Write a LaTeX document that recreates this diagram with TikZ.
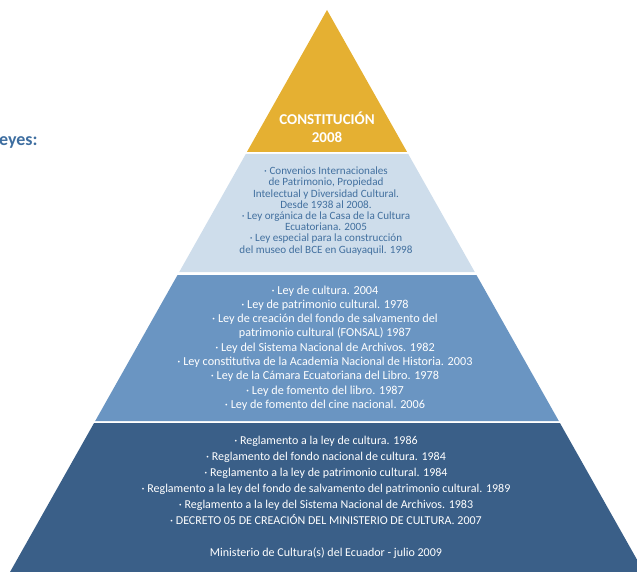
\documentclass[tikz,border=0pt]{standalone}
\usepackage{fontspec}
\setmainfont{Carlito}
\definecolor{gold}{HTML}{E5B032}
\definecolor{lightb}{HTML}{CEDDEB}
\definecolor{medb}{HTML}{6A95C2}
\definecolor{darkb}{HTML}{3A5F88}
\definecolor{txtb}{HTML}{42709F}
\definecolor{headb}{HTML}{3E6EA0}
\newcommand\pyrband[3]{%
  \fill[#3] ({327-0.564*(#1-10)},#1) -- ({327+0.564*(#1-10)},#1) --
    ({327+0.564*(#2-10)},#2) -- ({327-0.564*(#2-10)},#2) -- cycle;}
\tikzset{
  bandtext/.style={align=center, inner sep=0pt, anchor=center},
}
\begin{document}
\begin{tikzpicture}[x=1pt,y=-1pt]
\useasboundingbox (0,0) rectangle (637,572);
\clip (0,0) rectangle (637,572);
\pyrband{10}{152}{gold}
\pyrband{154}{272}{lightb}
\pyrband{275}{421}{medb}
\pyrband{423}{572}{darkb}

\node[anchor=west, inner sep=0pt, text=headb, font=\fontsize{18}{20}\selectfont\bfseries] (head) at (-1,142) {eyes:};

\node[bandtext, text=white, font=\fontsize{15}{18}\selectfont\bfseries] (t1) at (327,127)
  {CONSTITUCIÓN\\2008};

\node[bandtext, text=txtb, font=\fontsize{11.1}{11.2}\selectfont] (t2) at (326,211)
  {· Convenios Internacionales\\
   de Patrimonio, Propiedad\\
   Intelectual y Diversidad Cultural.\\
   Desde 1938 al 2008.\\
   · Ley orgánica de la Casa de la Cultura\\
   Ecuatoriana. 2005\\
   · Ley especial para la construcción\\
   del museo del BCE en Guayaquil. 1998};

\node[bandtext, text=white, font=\fontsize{12.2}{14.3}\selectfont] (t3) at (325,348)
  {· Ley de cultura. 2004\\
   · Ley de patrimonio cultural. 1978\\
   · Ley de creación del fondo de salvamento del\\
   patrimonio cultural (FONSAL) 1987\\
   · Ley del Sistema Nacional de Archivos. 1982\\
   · Ley constitutiva de la Academia Nacional de Historia. 2003\\
   · Ley de la Cámara Ecuatoriana del Libro. 1978\\
   · Ley de fomento del libro. 1987\\
   · Ley de fomento del cine nacional. 2006};

\node[bandtext, text=white, font=\fontsize{12}{16}\selectfont] (t4) at (326,497.5)
  {· Reglamento a la ley de cultura. 1986\\
   · Reglamento del fondo nacional de cultura. 1984\\
   · Reglamento a la ley de patrimonio cultural. 1984\\
   · Reglamento a la ley del fondo de salvamento del patrimonio cultural. 1989\\
   · Reglamento a la ley del Sistema Nacional de Archivos. 1983\\
   · DECRETO 05 DE CREACIÓN DEL MINISTERIO DE CULTURA. 2007\\[16pt]
   Ministerio de Cultura(s) del Ecuador - julio 2009};
\end{tikzpicture}
\end{document}
